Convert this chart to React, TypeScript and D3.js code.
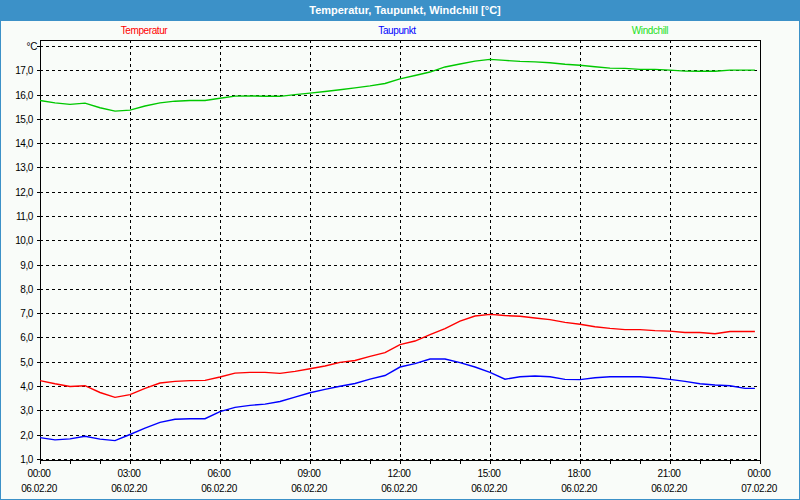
import React from "react";
import * as d3 from "d3";

const hours = [0, 0.5, 1, 1.5, 2, 2.5, 3, 3.5, 4, 4.5, 5, 5.5, 6, 6.5, 7, 7.5, 8, 8.5, 9, 9.5, 10, 10.5, 11, 11.5, 12, 12.5, 13, 13.5, 14, 14.5, 15, 15.5, 16, 16.5, 17, 17.5, 18, 18.5, 19, 19.5, 20, 20.5, 21, 21.5, 22, 22.5, 23, 23.5, 23.83];

const temperatur = [4.22, 4.09, 3.98, 4.01, 3.73, 3.53, 3.64, 3.90, 4.12, 4.19, 4.22, 4.23, 4.37, 4.53, 4.56, 4.56, 4.52, 4.60, 4.71, 4.82, 4.97, 5.05, 5.22, 5.37, 5.70, 5.85, 6.11, 6.36, 6.67, 6.88, 6.95, 6.90, 6.87, 6.80, 6.73, 6.62, 6.54, 6.44, 6.37, 6.32, 6.32, 6.28, 6.26, 6.20, 6.20, 6.15, 6.24, 6.24, 6.24];

const taupunkt = [1.87, 1.78, 1.82, 1.93, 1.81, 1.75, 2.00, 2.26, 2.50, 2.63, 2.65, 2.65, 2.94, 3.12, 3.20, 3.25, 3.36, 3.54, 3.72, 3.86, 3.99, 4.10, 4.28, 4.43, 4.78, 4.92, 5.11, 5.11, 4.96, 4.78, 4.56, 4.28, 4.38, 4.41, 4.38, 4.27, 4.26, 4.34, 4.38, 4.38, 4.38, 4.34, 4.27, 4.19, 4.09, 4.04, 4.01, 3.90, 3.90];

const windchill = [15.76, 15.66, 15.60, 15.65, 15.46, 15.32, 15.36, 15.53, 15.66, 15.73, 15.76, 15.76, 15.85, 15.94, 15.95, 15.93, 15.93, 16.00, 16.06, 16.13, 16.20, 16.28, 16.36, 16.46, 16.65, 16.79, 16.93, 17.14, 17.26, 17.38, 17.45, 17.41, 17.37, 17.35, 17.31, 17.25, 17.21, 17.15, 17.09, 17.08, 17.04, 17.04, 17.01, 16.97, 16.96, 16.96, 17.01, 17.01, 17.01];

const seriesNames = ["Temperatur", "Taupunkt", "Windchill"];
const yTickValues = [1, 2, 3, 4, 5, 6, 7, 8, 9, 10, 11, 12, 13, 14, 15, 16, 17];
const xTickHours = [0, 3, 6, 9, 12, 15, 18, 21, 24];
const xTimeLabels = ["00:00", "03:00", "06:00", "09:00", "12:00", "15:00", "18:00", "21:00", "00:00"];
const xDateLabels = ["06.02.20", "06.02.20", "06.02.20", "06.02.20", "06.02.20", "06.02.20", "06.02.20", "06.02.20", "07.02.20"];
const title = "Temperatur, Taupunkt, Windchill [°C]";
const unitLabel = "°C";

const W = 800;
const H = 500;
const FONT = "'Liberation Sans', Arial, sans-serif";
const BLUE = "#3c91c8";

export default function App() {
  const x = d3.scaleLinear().domain([0, 24]).range([40, 760]);
  const y = d3.scaleLinear().domain([0.95, 18.25]).range([460, 40]);
  const px = (v: number) => Math.round(v) + 0.5;

  const mk = (vals: number[]) =>
    d3
      .line<number>()
      .x((_, i) => x(hours[i]))
      .y((d) => y(d))(vals) as string;

  const lines = [
    { name: seriesNames[0], vals: temperatur, color: "#ff0000", text: "#ff0000", cx: 144 },
    { name: seriesNames[1], vals: taupunkt, color: "#0000ff", text: "#0000ff", cx: 397 },
    { name: seriesNames[2], vals: windchill, color: "#00c800", text: "#22e022", cx: 650 },
  ];

  const gridY = [...yTickValues, 18];
  const minorHours = d3.range(0, 25, 1);

  return (
    <svg
      width={W}
      height={H}
      style={{ position: "fixed", left: 0, top: 0, display: "block" }}
      fontFamily={FONT}
    >
      <rect x={0} y={0} width={W} height={H} fill="#f9fcf9" />
      <rect x={0.5} y={0.5} width={W - 1} height={H - 1} fill="none" stroke={BLUE} strokeWidth={1} />
      <rect x={0} y={0} width={W} height={21} fill={BLUE} />
      <text x={405} y={14} textAnchor="middle" fill="#ffffff" fontSize={11} fontWeight="bold">
        {title}
      </text>

      {lines.map((l) => (
        <text key={l.name} x={l.cx} y={34} textAnchor="middle" fill={l.text} fontSize={10} letterSpacing={-0.4}>
          {l.name}
        </text>
      ))}

      <g shapeRendering="crispEdges" stroke="#000" strokeWidth={1}>
        {gridY.map((v) => (
          <line key={"h" + v} x1={40} x2={760} y1={px(y(v))} y2={px(y(v))} strokeDasharray="3,3" />
        ))}
        {xTickHours.slice(1, -1).map((h) => (
          <line key={"v" + h} x1={px(x(h))} x2={px(x(h))} y1={40} y2={460} strokeDasharray="3,3" />
        ))}
        {minorHours.map((h) => (
          <line key={"t" + h} x1={px(x(h))} x2={px(x(h))} y1={460} y2={464} />
        ))}
        {gridY.map((v) => (
          <line key={"yt" + v} x1={37} x2={40} y1={px(y(v))} y2={px(y(v))} />
        ))}
        <rect x={40.5} y={40.5} width={720} height={420} fill="none" />
      </g>

      {lines.map((l) => (
        <path key={"p" + l.name} d={mk(l.vals)} fill="none" stroke={l.color} strokeWidth={1.4} />
      ))}

      <g fontSize={10} fill="#000" letterSpacing={-0.4}>
        {yTickValues.map((v) => (
          <text key={"yl" + v} x={33} y={y(v) + 4} textAnchor="end">
            {d3.format(".1f")(v).replace(".", ",")}
          </text>
        ))}
        <text x={37} y={y(18) + 4} textAnchor="end">
          {unitLabel}
        </text>
        {xTickHours.map((h, i) => (
          <g key={"xl" + i}>
            <text x={x(h) - 1} y={477} textAnchor="middle">
              {xTimeLabels[i]}
            </text>
            <text x={x(h) - 1} y={492} textAnchor="middle">
              {xDateLabels[i]}
            </text>
          </g>
        ))}
      </g>
    </svg>
  );
}
